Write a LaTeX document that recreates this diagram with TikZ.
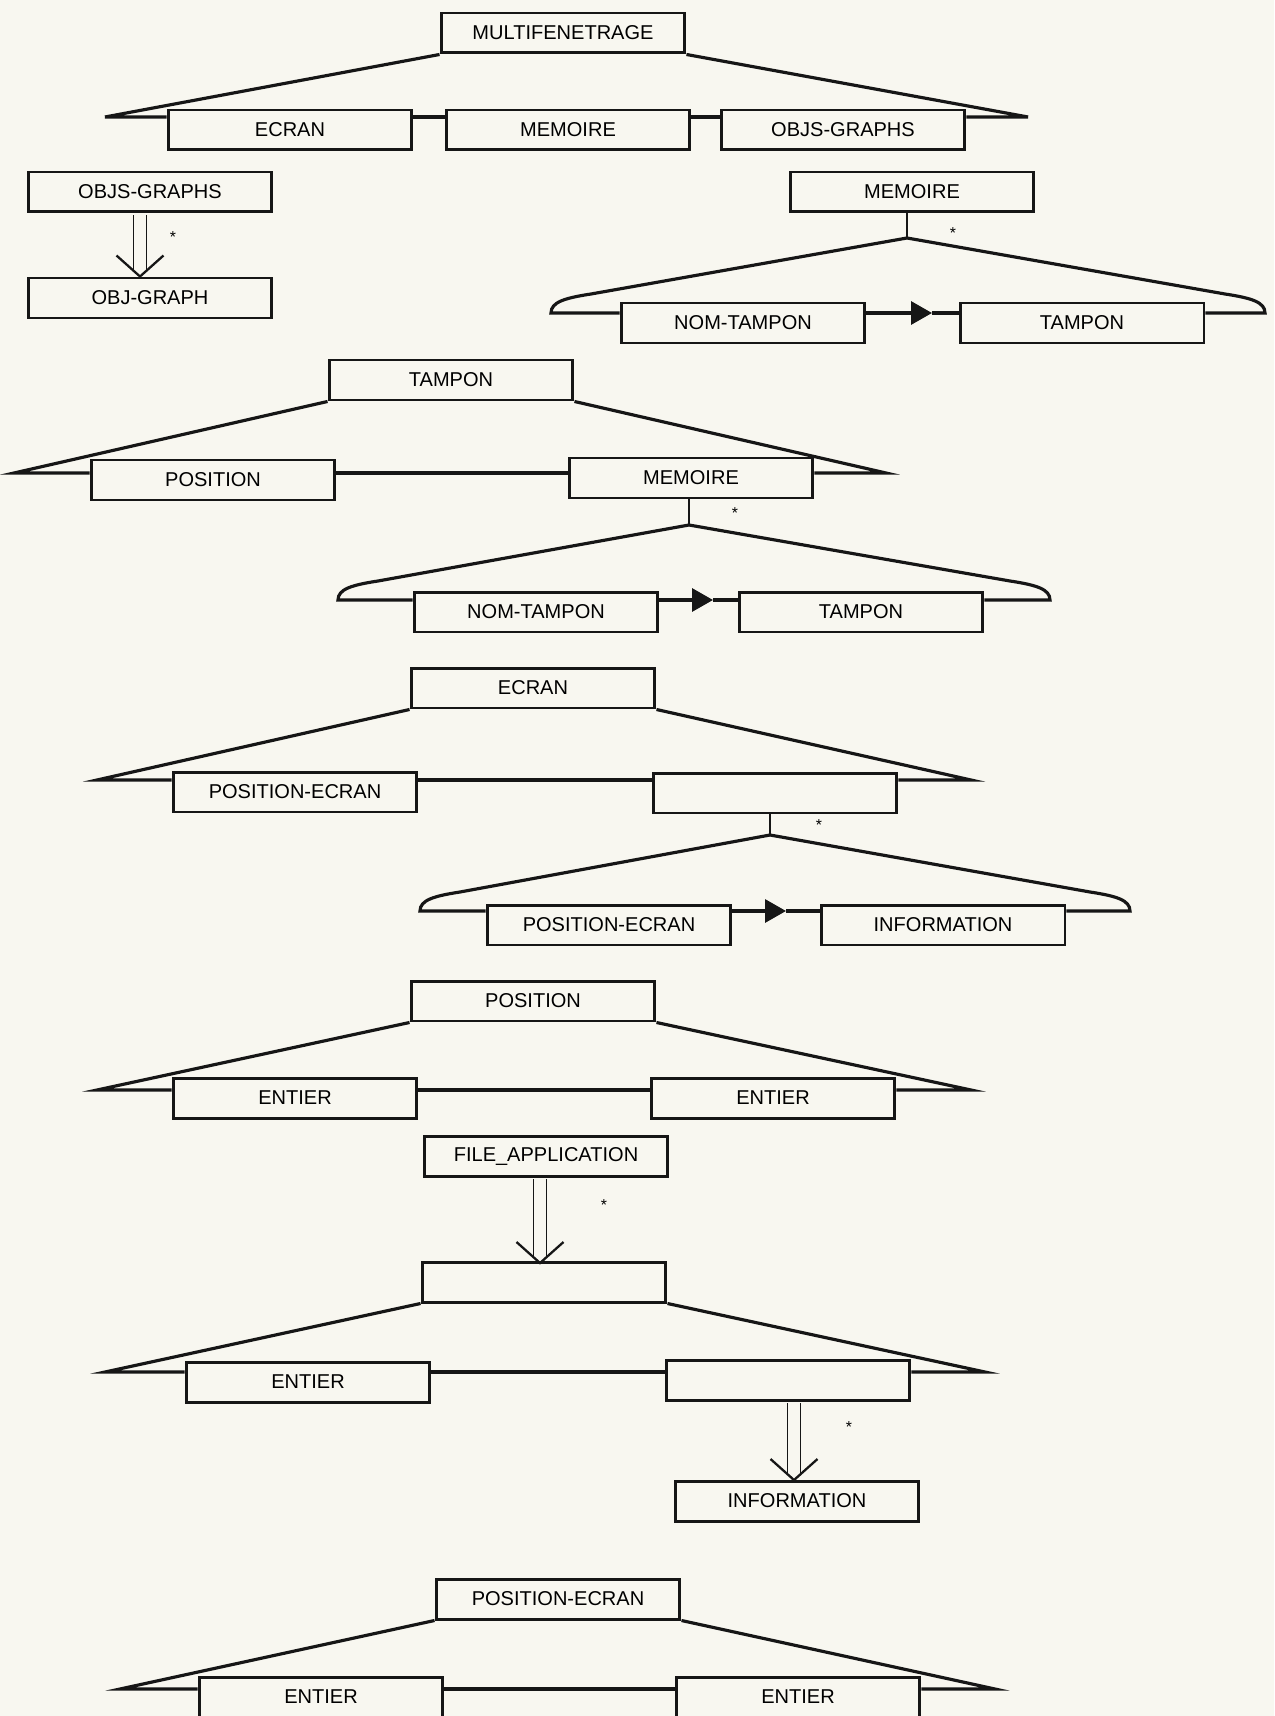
\documentclass[tikz,border=0pt]{standalone}
\usepackage{fontspec}
\setmainfont{Liberation Sans}
\usetikzlibrary{arrows.meta, calc}
\definecolor{papier}{RGB}{248,247,240}
\definecolor{encre}{RGB}{22,22,22}
\tikzset{
    boite/.style={
        rectangle,
        draw=encre, % 边框颜色
        line width=1.7pt, % 边框加粗
        minimum width=4.88cm,
        minimum height=0.8cm,
        inner sep=0,
        font=\fontsize{11.4}{13}\selectfont
    },
    branche/.style={draw=encre, line width=1.8pt},
    fine/.style={draw=encre, line width=0.9pt},
    dfleche/.style={
        draw=encre,
        double=papier, % 双线箭杆
        double distance=6.4pt,
        line width=0.9pt
    },
    pointe/.style={draw=encre, line width=1.3pt},
    seq/.style={draw=encre, line width=1.8pt, -{Triangle[length=0.42cm, width=0.46cm]}},
    etoile/.style={inner sep=0, font=\fontsize{9}{9}\selectfont}
}

\begin{document}
\begin{tikzpicture}[x=0.02cm, y=-0.02cm]
    \useasboundingbox (0,0) rectangle (1274,1716);
    \fill[papier] (0,0) rectangle (1274,1716);
    \clip (0,0) rectangle (1274,1716);

    % MULTIFENETRAGE
    \node[boite] (multi) at (563,33) {MULTIFENETRAGE};
    \node[boite] (ecran1) at (290,130) {ECRAN};
    \node[boite] (mem1) at (568,130) {MEMOIRE};
    \node[boite] (objs1) at (843,130) {OBJS-GRAPHS};
    \coordinate (l1) at (105,117);
    \coordinate (r1) at (1028,117);
    \draw[branche] (multi.south west) -- (l1) -- (ecran1.west |- l1);
    \draw[branche] (ecran1.east |- l1) -- (mem1.west |- l1);
    \draw[branche] (mem1.east |- l1) -- (objs1.west |- l1);
    \draw[branche] (multi.south east) -- (r1) -- (objs1.east |- r1);

    % OBJS-GRAPHS -> OBJ-GRAPH
    \node[boite] (objs2) at (150,192) {OBJS-GRAPHS};
    \node[boite] (og2) at (150,298) {OBJ-GRAPH};
    \draw[dfleche, shorten <=0.8pt, shorten >=0.12cm] ([xshift=-0.2cm]objs2.south) -- ([xshift=-0.2cm]og2.north);
    \draw[pointe] ($([xshift=-0.2cm]og2.north)+(-23.5,-21)$) -- ([xshift=-0.2cm]og2.north) -- ($([xshift=-0.2cm]og2.north)+(23.5,-21)$);
    \node[etoile] (s2) at (173,237) {*};

    % MEMOIRE
    \node[boite] (mem3) at (912,192) {MEMOIRE};
    \coordinate (a3) at (907,238);
    \coordinate (e3l) at (551,313);
    \coordinate (e3r) at (1265,313);
    \coordinate (k3) at (932,313);
    \node[boite] (nt3) at (743,323) {NOM-TAMPON};
    \node[boite] (tp3) at (1082,323) {TAMPON};
    \draw[fine] (mem3.south -| a3) -- (a3);
    \node[etoile] (s3) at (953,233) {*};
    \draw[branche] (a3) -- ($(e3l)+(40,-19)$) .. controls ($(e3l)+(14,-15)$) and ($(e3l)+(0,-11)$) .. (e3l) -- (nt3.west |- e3l);
    \draw[branche] (a3) -- ($(e3r)+(-40,-19)$) .. controls ($(e3r)+(-14,-15)$) and ($(e3r)+(0,-11)$) .. (e3r) -- (tp3.east |- e3r);
    \draw[seq] (nt3.east |- k3) -- (k3);
    \draw[branche] (k3) -- (tp3.west |- k3);

    % TAMPON
    \node[boite] (tp4) at (451,380) {TAMPON};
    \node[boite] (pos4) at (213,480) {POSITION};
    \node[boite] (mem4) at (691,478) {MEMOIRE};
    \coordinate (l4) at (14,473);
    \coordinate (r4) at (886,473);
    \draw[branche] (tp4.south west) -- (l4) -- (pos4.west |- l4);
    \draw[branche] (pos4.east |- l4) -- (mem4.west |- l4);
    \draw[branche] (tp4.south east) -- (r4) -- (mem4.east |- r4);
    \coordinate (a4) at (689,525);
    \coordinate (e4l) at (338,600);
    \coordinate (e4r) at (1050,600);
    \coordinate (k4) at (713,600);
    \node[boite] (nt4) at (536,612) {NOM-TAMPON};
    \node[boite] (tp4b) at (861,612) {TAMPON};
    \draw[fine] (mem4.south -| a4) -- (a4);
    \node[etoile] (s4) at (735,513) {*};
    \draw[branche] (a4) -- ($(e4l)+(40,-19)$) .. controls ($(e4l)+(14,-15)$) and ($(e4l)+(0,-11)$) .. (e4l) -- (nt4.west |- e4l);
    \draw[branche] (a4) -- ($(e4r)+(-40,-19)$) .. controls ($(e4r)+(-14,-15)$) and ($(e4r)+(0,-11)$) .. (e4r) -- (tp4b.east |- e4r);
    \draw[seq] (nt4.east |- k4) -- (k4);
    \draw[branche] (k4) -- (tp4b.west |- k4);

    % ECRAN
    \node[boite] (ecr5) at (533,688) {ECRAN};
    \node[boite] (pe5) at (295,792) {POSITION-ECRAN};
    \node[boite] (vide5) at (775,793) {};
    \coordinate (l5) at (97,780);
    \coordinate (r5) at (971,780);
    \draw[branche] (ecr5.south west) -- (l5) -- (pe5.west |- l5);
    \draw[branche] (pe5.east |- l5) -- (vide5.west |- l5);
    \draw[branche] (ecr5.south east) -- (r5) -- (vide5.east |- r5);
    \coordinate (a5) at (770,835);
    \coordinate (e5l) at (420,911);
    \coordinate (e5r) at (1130,911);
    \coordinate (k5) at (786,911);
    \node[boite] (pe5b) at (609,925) {POSITION-ECRAN};
    \node[boite] (inf5) at (943,925) {INFORMATION};
    \draw[fine] (vide5.south -| a5) -- (a5);
    \node[etoile] (s5) at (819,825) {*};
    \draw[branche] (a5) -- ($(e5l)+(40,-19)$) .. controls ($(e5l)+(14,-15)$) and ($(e5l)+(0,-11)$) .. (e5l) -- (pe5b.west |- e5l);
    \draw[branche] (a5) -- ($(e5r)+(-40,-19)$) .. controls ($(e5r)+(-14,-15)$) and ($(e5r)+(0,-11)$) .. (e5r) -- (inf5.east |- e5r);
    \draw[seq] (pe5b.east |- k5) -- (k5);
    \draw[branche] (k5) -- (inf5.west |- k5);

    % POSITION
    \node[boite] (pos6) at (533,1001) {POSITION};
    \node[boite] (ent6a) at (295,1098) {ENTIER};
    \node[boite] (ent6b) at (773,1098) {ENTIER};
    \coordinate (l6) at (97,1090);
    \coordinate (r6) at (971,1090);
    \draw[branche] (pos6.south west) -- (l6) -- (ent6a.west |- l6);
    \draw[branche] (ent6a.east |- l6) -- (ent6b.west |- l6);
    \draw[branche] (pos6.south east) -- (r6) -- (ent6b.east |- r6);

    % FILE_APPLICATION
    \node[boite] (fa7) at (546,1156) {FILE\_APPLICATION};
    \node[boite] (vide7) at (544,1282) {};
    \coordinate (f7) at (540,1263);
    \draw[dfleche, shorten <=0.8pt, shorten >=0.12cm] (fa7.south -| f7) -- (f7);
    \draw[pointe] ($(f7)+(-23.5,-21)$) -- (f7) -- ($(f7)+(23.5,-21)$);
    \node[etoile] (s7) at (604,1205) {*};
    \node[boite] (ent7) at (308,1382) {ENTIER};
    \node[boite] (vide7b) at (788,1380) {};
    \coordinate (l7) at (105,1372);
    \coordinate (r7) at (985,1372);
    \draw[branche] (vide7.south west) -- (l7) -- (ent7.west |- l7);
    \draw[branche] (ent7.east |- l7) -- (vide7b.west |- l7);
    \draw[branche] (vide7.south east) -- (r7) -- (vide7b.east |- r7);
    \node[boite] (inf7) at (797,1501) {INFORMATION};
    \coordinate (f7b) at (794,1480);
    \draw[dfleche, shorten <=0.8pt, shorten >=0.12cm] (vide7b.south -| f7b) -- (f7b);
    \draw[pointe] ($(f7b)+(-23.5,-21)$) -- (f7b) -- ($(f7b)+(23.5,-21)$);
    \node[etoile] (s7b) at (849,1427) {*};

    % POSITION-ECRAN
    \node[boite] (pe8) at (558,1599) {POSITION-ECRAN};
    \node[boite] (ent8a) at (321,1697) {ENTIER};
    \node[boite] (ent8b) at (798,1697) {ENTIER};
    \coordinate (l8) at (120,1689);
    \coordinate (r8) at (995,1689);
    \draw[branche] (pe8.south west) -- (l8) -- (ent8a.west |- l8);
    \draw[branche] (ent8a.east |- l8) -- (ent8b.west |- l8);
    \draw[branche] (pe8.south east) -- (r8) -- (ent8b.east |- r8);
\end{tikzpicture}
\end{document}
